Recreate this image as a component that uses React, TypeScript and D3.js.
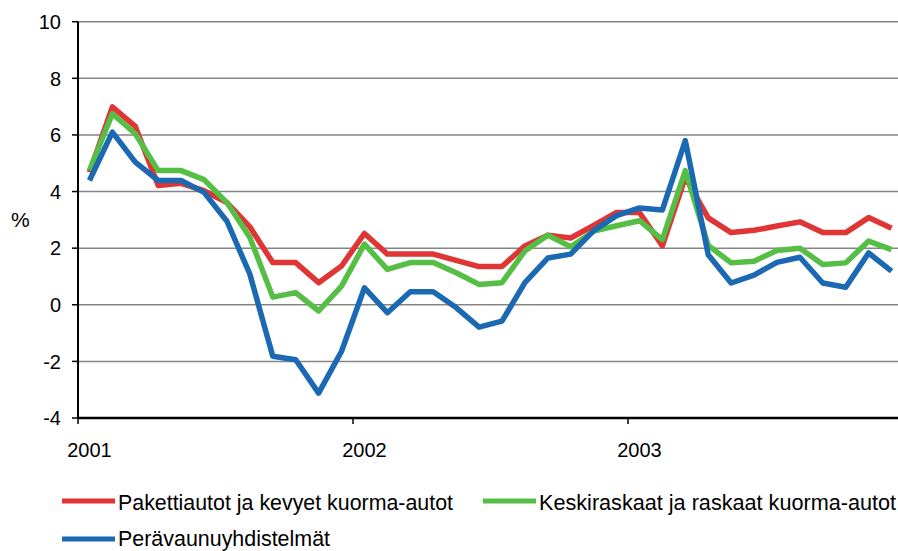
import React from "react";
import * as d3 from "d3";

const months: string[] = [];
const years = ["2001", "2002", "2003"];
years.forEach((y) => {
  for (let m = 1; m <= 12; m++) months.push(`${y}-${String(m).padStart(2, "0")}`);
});

const pakettiautot = [4.68, 6.99, 6.3, 4.21, 4.29, 4.03, 3.61, 2.75, 1.49, 1.49, 0.78, 1.37,
  2.52, 1.79, 1.79, 1.79, 1.57, 1.35, 1.35, 2.08, 2.46, 2.36, 2.8, 3.26,
  3.26, 2.08, 4.5, 3.07, 2.55, 2.63, 2.78, 2.93, 2.55, 2.55, 3.08, 2.7];
const keskiraskaat = [4.74, 6.75, 6.04, 4.74, 4.74, 4.42, 3.61, 2.38, 0.27, 0.43, -0.22, 0.66,
  2.14, 1.25, 1.49, 1.49, 1.13, 0.72, 0.78, 1.9, 2.46, 2.05, 2.6, 2.79,
  2.97, 2.3, 4.74, 2.1, 1.48, 1.54, 1.92, 2.0, 1.42, 1.48, 2.25, 1.95];
const peravaunu = [4.39, 6.1, 5.04, 4.39, 4.39, 3.97, 2.95, 1.08, -1.82, -1.94, -3.12, -1.64,
  0.6, -0.28, 0.46, 0.46, -0.1, -0.79, -0.58, 0.78, 1.65, 1.79, 2.62, 3.15,
  3.42, 3.35, 5.8, 1.77, 0.77, 1.05, 1.5, 1.68, 0.77, 0.62, 1.83, 1.19];

const yTicks = [-4, -2, 0, 2, 4, 6, 8, 10];

const seriesNames = [
  "Pakettiautot ja kevyet kuorma-autot",
  "Keskiraskaat ja raskaat kuorma-autot",
  "Perävaunuyhdistelmät",
];
const seriesColors = ["#E03535", "#55BE45", "#1B69B2"];
const seriesData = [pakettiautot, keskiraskaat, peravaunu];

const W = 898;
const H = 551;
const left = 78;
const catW = 22.917;
const top = 21.7;
const bottom = 418;
const FONT = "'Liberation Sans', Arial, sans-serif";

export default function App() {
  const x = d3.scaleBand<string>().domain(months).range([left, left + catW * months.length]).paddingInner(0).paddingOuter(0);
  const y = d3.scaleLinear().domain([-4, 10]).range([bottom, top]);
  const cx = (m: string) => (x(m) as number) + x.bandwidth() / 2;
  const line = d3
    .line<number>()
    .x((_, i) => cx(months[i]))
    .y((d) => y(d));
  const right = W;

  const yearStarts = years.map((yr) => `${yr}-01`);

  const legend = [
    { lx: 62, ly: 501, tb: 510, tl: 335, i: 0 },
    { lx: 483, ly: 501, tb: 510, tl: 357, i: 1 },
    { lx: 62, ly: 539, tb: 546, tl: 212, i: 2 },
  ];

  return (
    <svg width={W} height={H} style={{ position: "absolute", left: 0, top: 0, background: "#fff" }} fontFamily={FONT}>
      <rect x={0} y={0} width={W} height={H} fill="#fff" />
      {yTicks.map((t) => (
        <g key={t}>
          {t !== -4 && (
            <line x1={left} x2={right} y1={y(t)} y2={y(t)} stroke="#858585" strokeWidth={1.5} />
          )}
          <line x1={left - 6} x2={left} y1={y(t)} y2={y(t)} stroke="#000" strokeWidth={1.5} />
          <text x={61} y={y(t)} dy="0.36em" textAnchor="end" fontSize={20} fill="#000">
            {t}
          </text>
        </g>
      ))}
      <text x={11} y={227} fontSize={21} fill="#000">%</text>
      {yearStarts.map((m, i) => (
        <g key={m}>
          <line x1={x(m) as number} x2={x(m) as number} y1={bottom} y2={bottom + 6} stroke="#000" strokeWidth={1.5} />
          <text x={cx(m)} y={457} textAnchor="middle" fontSize={20} fill="#000">
            {years[i]}
          </text>
        </g>
      ))}
      <line x1={left} x2={left} y1={top} y2={bottom} stroke="#000" strokeWidth={2} />
      <line x1={left} x2={right} y1={bottom} y2={bottom} stroke="#000" strokeWidth={2.5} />
      {seriesData.map((s, i) => (
        <path key={i} d={line(s) as string} fill="none" stroke={seriesColors[i]} strokeWidth={5.5} strokeLinejoin="round" />
      ))}
      {legend.map(({ lx, ly, tb, tl, i }) => (
        <g key={i}>
          <line x1={lx} x2={lx + 53} y1={ly} y2={ly} stroke={seriesColors[i]} strokeWidth={5} />
          <text x={lx + 56} y={tb} fontSize={21.5} fill="#000" textLength={tl} lengthAdjust="spacingAndGlyphs">
            {seriesNames[i]}
          </text>
        </g>
      ))}
    </svg>
  );
}
